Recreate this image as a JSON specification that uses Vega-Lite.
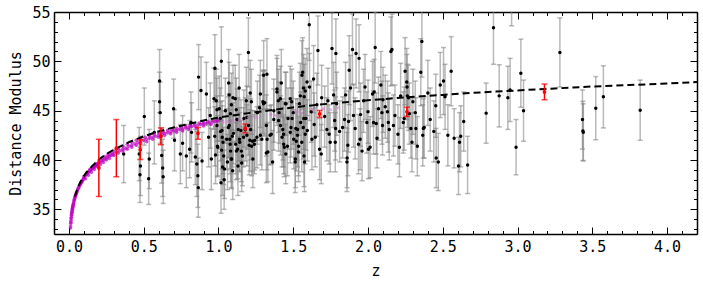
{
"$schema": "https://vega.github.io/schema/vega-lite/v6.json",
"width": 643, "height": 222,
"autosize": {"type": "none"},
"padding": {"left": 54, "top": 12, "right": 6, "bottom": 51},
"config": {"view": {"stroke": null}, "font": "DejaVu Sans Mono",
  "axis": {"grid": false, "domainColor": "black", "domainWidth": 1.5, "tickColor": "black", "tickWidth": 1,
    "labelFont": "DejaVu Sans Mono", "labelFontSize": 15, "labelColor": "black",
    "titleFont": "DejaVu Sans Mono", "titleFontSize": 15, "titleFontWeight": "normal", "titleColor": "black",
    "labelOverlap": false, "labelBound": false, "labelFlush": false}},
"datasets": {
"obs": [
{"z":0.366,"mu":40.6,"e":2.9},{"z":0.475,"mu":38.5,"e":2.8},{"z":0.478,"mu":39.4,"e":3.0},{"z":0.47,"mu":40.6,"e":2.7},
{"z":0.504,"mu":44.4,"e":2.9},{"z":0.533,"mu":38.1,"e":2.6},{"z":0.537,"mu":40.1,"e":3.0},{"z":0.571,"mu":42.8,"e":3.2},
{"z":0.606,"mu":48.0,"e":3.2},{"z":0.606,"mu":45.9,"e":3.0},{"z":0.61,"mu":44.8,"e":3.1},{"z":0.62,"mu":40.45,"e":2.8},
{"z":0.627,"mu":39.2,"e":2.9},{"z":0.63,"mu":38.3,"e":2.7},
{"z":0.70,"mu":45.2,"e":3.0},{"z":0.706,"mu":42.0,"e":3.1},{"z":0.745,"mu":40.6,"e":3.0},{"z":0.76,"mu":41.7,"e":2.8},
{"z":0.785,"mu":40.4,"e":3.2},{"z":0.807,"mu":41.1,"e":2.9},{"z":0.816,"mu":43.8,"e":3.1},{"z":0.82,"mu":42.8,"e":3.0},
{"z":0.845,"mu":40.3,"e":2.8},{"z":0.855,"mu":39.6,"e":3.3},{"z":0.862,"mu":38.4,"e":3.2},{"z":0.865,"mu":37.2,"e":3.0},
{"z":0.867,"mu":48.4,"e":3.3},{"z":0.883,"mu":47.05,"e":3.4},{"z":0.89,"mu":39.9,"e":2.9},{"z":0.919,"mu":46.7,"e":3.2},
{"z":0.934,"mu":42.3,"e":3.0},{"z":0.945,"mu":44.5,"e":3.3},{"z":0.952,"mu":40.1,"e":3.1},{"z":0.976,"mu":49.3,"e":3.4},
{"z":0.985,"mu":46.0,"e":3.2},{"z":0.99,"mu":43.5,"e":3.0},{"z":0.995,"mu":41.3,"e":2.9},{"z":1.017,"mu":37.7,"e":3.1},
{"z":1.019,"mu":50.0,"e":3.5},{"z":1.023,"mu":43.0,"e":3.0},{"z":1.03,"mu":41.8,"e":3.2},{"z":1.035,"mu":40.4,"e":2.9},
{"z":1.04,"mu":39.1,"e":3.0},{"z":1.046,"mu":45.0,"e":3.3},{"z":1.055,"mu":42.1,"e":3.1},{"z":1.06,"mu":39.8,"e":2.8},
{"z":1.068,"mu":47.8,"e":3.4},{"z":1.072,"mu":43.5,"e":3.2},{"z":1.078,"mu":41.6,"e":3.0},{"z":1.085,"mu":40.1,"e":2.9},
{"z":1.08,"mu":44.7,"e":3.1},{"z":1.097,"mu":46.3,"e":3.3},{"z":1.10,"mu":42.7,"e":3.1},{"z":1.112,"mu":46.2,"e":3.4},
{"z":1.115,"mu":41.6,"e":3.0},{"z":1.12,"mu":40.9,"e":2.9},{"z":1.13,"mu":39.4,"e":3.0},{"z":1.14,"mu":42.1,"e":3.2},
{"z":1.15,"mu":43.0,"e":3.1},{"z":1.16,"mu":40.4,"e":3.0},{"z":1.17,"mu":44.2,"e":2.9},{"z":1.186,"mu":46.0,"e":3.4},
{"z":1.19,"mu":44.3,"e":3.2},{"z":1.20,"mu":50.9,"e":3.5},{"z":1.205,"mu":41.5,"e":3.0},{"z":1.21,"mu":42.0,"e":3.1},
{"z":1.22,"mu":45.9,"e":3.3},{"z":1.23,"mu":40.1,"e":2.9},{"z":1.24,"mu":41.6,"e":3.0},{"z":1.26,"mu":44.8,"e":3.2},
{"z":1.28,"mu":46.7,"e":3.4},{"z":1.29,"mu":42.1,"e":3.1},{"z":1.30,"mu":45.7,"e":3.3},{"z":1.324,"mu":48.7,"e":3.6},
{"z":1.32,"mu":43.5,"e":3.1},{"z":1.33,"mu":40.8,"e":3.0},
{"z":0.97,"mu":46.2,"e":3.1},{"z":0.99,"mu":45.1,"e":3.2},{"z":0.975,"mu":42.4,"e":3.0},{"z":0.993,"mu":41.4,"e":3.1},
{"z":0.98,"mu":40.5,"e":2.9},{"z":1.005,"mu":45.2,"e":3.3},{"z":1.012,"mu":44.2,"e":3.1},{"z":1.014,"mu":42.9,"e":3.0},
{"z":1.025,"mu":42.3,"e":3.2},{"z":1.021,"mu":41.0,"e":3.0},{"z":1.027,"mu":39.3,"e":2.9},{"z":1.038,"mu":38.0,"e":3.0},
{"z":1.071,"mu":46.6,"e":3.3},{"z":1.066,"mu":43.3,"e":3.1},{"z":1.076,"mu":42.1,"e":3.0},{"z":1.081,"mu":40.9,"e":3.1},
{"z":1.086,"mu":45.6,"e":3.2},{"z":1.088,"mu":40.1,"e":3.0},{"z":1.092,"mu":42.4,"e":3.1},{"z":1.095,"mu":38.9,"e":2.9},
{"z":1.119,"mu":45.1,"e":3.2},{"z":1.124,"mu":44.1,"e":3.1},{"z":1.128,"mu":41.1,"e":3.0},{"z":1.132,"mu":43.1,"e":3.2},
{"z":1.138,"mu":47.3,"e":3.4},{"z":1.142,"mu":41.8,"e":3.0},{"z":1.153,"mu":40.9,"e":3.1},{"z":1.155,"mu":39.7,"e":2.9},
{"z":1.168,"mu":42.3,"e":3.0},{"z":1.179,"mu":43.1,"e":3.2},{"z":1.19,"mu":42.5,"e":3.1},{"z":1.201,"mu":43.5,"e":3.0},
{"z":1.212,"mu":46.8,"e":3.3},{"z":1.215,"mu":43.1,"e":3.1},{"z":1.222,"mu":41.4,"e":3.0},{"z":1.228,"mu":41.9,"e":3.1},
{"z":1.243,"mu":42.0,"e":3.0},{"z":1.257,"mu":42.3,"e":3.1},{"z":1.275,"mu":45.3,"e":3.3},{"z":1.28,"mu":42.5,"e":3.0},
{"z":1.297,"mu":45.9,"e":3.2},{"z":1.302,"mu":48.6,"e":3.5},{"z":1.309,"mu":45.8,"e":3.3},{"z":1.32,"mu":40.7,"e":3.0},
{"z":1.325,"mu":42.1,"e":3.1},{"z":1.353,"mu":42.6,"e":3.0},{"z":1.37,"mu":45.0,"e":3.2},{"z":1.391,"mu":47.2,"e":3.4},
{"z":1.402,"mu":44.0,"e":3.1},{"z":1.414,"mu":46.2,"e":3.3},{"z":1.425,"mu":42.3,"e":3.0},{"z":1.43,"mu":43.1,"e":3.1},
{"z":1.436,"mu":41.6,"e":3.0},{"z":1.452,"mu":45.7,"e":3.2},{"z":1.461,"mu":41.4,"e":3.0},{"z":1.48,"mu":42.8,"e":3.1},
{"z":1.49,"mu":45.9,"e":3.3},{"z":1.492,"mu":44.2,"e":3.1},{"z":1.503,"mu":42.1,"e":3.0},{"z":1.514,"mu":40.1,"e":2.9},
{"z":1.529,"mu":43.1,"e":3.1},{"z":1.536,"mu":41.4,"e":3.0},{"z":1.541,"mu":45.7,"e":3.2},{"z":1.558,"mu":48.6,"e":3.5},
{"z":1.569,"mu":47.3,"e":3.4},{"z":1.573,"mu":46.4,"e":3.3},{"z":1.57,"mu":44.2,"e":3.1},{"z":1.58,"mu":42.6,"e":3.0},
{"z":1.345,"mu":42.5,"e":3.0},{"z":1.362,"mu":39.8,"e":3.2},{"z":1.391,"mu":46.9,"e":3.4},{"z":1.40,"mu":46.0,"e":3.2},
{"z":1.405,"mu":44.8,"e":3.1},{"z":1.415,"mu":43.5,"e":3.0},{"z":1.435,"mu":42.6,"e":3.3},{"z":1.44,"mu":41.3,"e":3.0},
{"z":1.447,"mu":45.7,"e":3.2},{"z":1.465,"mu":44.2,"e":3.1},{"z":1.48,"mu":46.2,"e":3.3},{"z":1.485,"mu":43.3,"e":3.0},
{"z":1.50,"mu":44.8,"e":3.2},{"z":1.513,"mu":39.8,"e":3.1},{"z":1.517,"mu":43.2,"e":3.0},{"z":1.528,"mu":42.5,"e":3.2},
{"z":1.535,"mu":40.8,"e":3.0},{"z":1.547,"mu":46.5,"e":3.3},{"z":1.55,"mu":43.8,"e":3.1},{"z":1.557,"mu":41.8,"e":3.0},
{"z":1.563,"mu":48.9,"e":3.5},{"z":1.567,"mu":43.3,"e":3.2},{"z":1.572,"mu":40.4,"e":3.1},{"z":1.575,"mu":39.8,"e":3.0},
{"z":1.58,"mu":47.0,"e":3.3},{"z":1.585,"mu":44.2,"e":3.2},{"z":1.592,"mu":47.9,"e":3.4},{"z":1.594,"mu":43.0,"e":3.1},
{"z":1.607,"mu":53.7,"e":3.6},{"z":1.609,"mu":47.4,"e":3.4},{"z":1.625,"mu":42.1,"e":3.1},{"z":1.636,"mu":48.2,"e":3.4},
{"z":1.647,"mu":42.3,"e":3.0},{"z":1.658,"mu":45.6,"e":3.2},{"z":1.665,"mu":51.1,"e":3.5},{"z":1.676,"mu":41.1,"e":3.1},
{"z":1.687,"mu":40.6,"e":3.0},{"z":1.725,"mu":43.1,"e":3.2},{"z":1.732,"mu":46.0,"e":3.3},{"z":1.747,"mu":41.8,"e":3.0},
{"z":1.759,"mu":51.3,"e":3.6},{"z":1.77,"mu":46.6,"e":3.3},{"z":1.777,"mu":44.0,"e":3.1},{"z":1.781,"mu":41.8,"e":3.0},
{"z":1.785,"mu":50.8,"e":3.5},{"z":1.783,"mu":43.2,"e":3.2},{"z":1.83,"mu":43.3,"e":3.1},{"z":1.843,"mu":44.1,"e":3.2},
{"z":1.859,"mu":39.8,"e":3.0},{"z":1.865,"mu":41.5,"e":3.1},{"z":1.874,"mu":49.1,"e":3.5},{"z":1.883,"mu":47.3,"e":3.3},
{"z":1.896,"mu":51.2,"e":3.6},{"z":1.903,"mu":44.5,"e":3.2},{"z":1.914,"mu":43.2,"e":3.1},{"z":1.92,"mu":50.8,"e":3.5},
{"z":1.936,"mu":41.6,"e":3.0},{"z":1.947,"mu":42.1,"e":3.1},{"z":1.94,"mu":50.3,"e":3.4},{"z":1.97,"mu":46.0,"e":3.2},
{"z":1.98,"mu":47.4,"e":3.3},{"z":1.992,"mu":43.8,"e":3.1},{"z":2.003,"mu":41.1,"e":3.0},{"z":2.014,"mu":41.3,"e":3.1},
{"z":2.03,"mu":46.7,"e":3.3},{"z":2.037,"mu":43.8,"e":3.2},{"z":2.048,"mu":51.4,"e":3.6},
{"z":1.62,"mu":44.9,"e":3.1},{"z":1.64,"mu":43.6,"e":3.2},{"z":1.69,"mu":46.3,"e":3.3},{"z":1.71,"mu":44.4,"e":3.1},
{"z":1.74,"mu":42.6,"e":3.0},{"z":1.79,"mu":45.7,"e":3.2},{"z":1.81,"mu":42.9,"e":3.1},{"z":1.85,"mu":46.6,"e":3.3},
{"z":1.86,"mu":40.2,"e":3.0},{"z":1.87,"mu":43.9,"e":3.1},{"z":1.95,"mu":44.6,"e":3.2},{"z":1.96,"mu":40.9,"e":3.0},
{"z":2.0,"mu":44.9,"e":3.2},{"z":2.06,"mu":42.2,"e":3.0},{"z":2.1,"mu":46.1,"e":3.3},{"z":2.18,"mu":44.5,"e":3.1},
{"z":2.2,"mu":42.6,"e":3.0},{"z":2.3,"mu":45.9,"e":3.3},{"z":2.33,"mu":41.4,"e":3.0},{"z":2.4,"mu":46.8,"e":3.3},
{"z":2.44,"mu":42.9,"e":3.1},{"z":2.47,"mu":39.8,"e":2.9},{"z":1.52,"mu":41.9,"e":3.0},{"z":1.45,"mu":40.6,"e":3.0},
{"z":1.42,"mu":47.8,"e":3.4},{"z":1.37,"mu":44.1,"e":3.1},
{"z":2.041,"mu":46.9,"e":3.3},{"z":2.055,"mu":43.7,"e":3.1},{"z":2.07,"mu":45.2,"e":3.2},{"z":2.086,"mu":47.6,"e":3.4},
{"z":2.093,"mu":44.8,"e":3.2},{"z":2.097,"mu":43.5,"e":3.0},{"z":2.115,"mu":45.4,"e":3.2},{"z":2.13,"mu":44.9,"e":3.1},
{"z":2.136,"mu":43.8,"e":3.0},{"z":2.142,"mu":43.1,"e":3.1},{"z":2.153,"mu":51.0,"e":3.5},{"z":2.16,"mu":51.2,"e":3.6},
{"z":2.17,"mu":43.5,"e":3.1},{"z":2.21,"mu":41.3,"e":3.0},{"z":2.218,"mu":46.5,"e":3.3},{"z":2.236,"mu":43.8,"e":3.1},
{"z":2.242,"mu":44.2,"e":3.2},{"z":2.248,"mu":49.0,"e":3.4},{"z":2.259,"mu":47.9,"e":3.4},{"z":2.261,"mu":47.4,"e":3.3},
{"z":2.263,"mu":46.5,"e":3.2},{"z":2.27,"mu":46.3,"e":3.3},{"z":2.276,"mu":44.7,"e":3.1},{"z":2.287,"mu":43.2,"e":3.0},
{"z":2.294,"mu":41.8,"e":3.0},{"z":2.316,"mu":44.8,"e":3.2},{"z":2.32,"mu":43.2,"e":3.1},{"z":2.353,"mu":48.9,"e":3.4},
{"z":2.36,"mu":52.0,"e":3.6},{"z":2.366,"mu":42.5,"e":3.1},{"z":2.37,"mu":43.2,"e":3.0},{"z":2.376,"mu":43.3,"e":3.1},
{"z":2.416,"mu":44.1,"e":3.2},{"z":2.453,"mu":45.5,"e":3.2},{"z":2.456,"mu":40.2,"e":3.0},{"z":2.483,"mu":47.6,"e":3.3},
{"z":2.505,"mu":48.0,"e":3.4},{"z":2.515,"mu":46.4,"e":3.3},{"z":2.534,"mu":42.5,"e":3.1},{"z":2.556,"mu":49.0,"e":3.5},
{"z":2.576,"mu":42.2,"e":3.0},{"z":2.605,"mu":39.4,"e":2.9},{"z":2.612,"mu":41.8,"e":3.0},{"z":2.62,"mu":42.4,"e":3.1},
{"z":2.64,"mu":43.9,"e":3.0},{"z":2.666,"mu":39.5,"e":2.9},
{"z":2.79,"mu":44.75,"e":3.05},{"z":2.839,"mu":53.4,"e":3.7},{"z":2.877,"mu":46.5,"e":3.15},{"z":2.935,"mu":46.3,"e":3.2},
{"z":2.95,"mu":47.1,"e":3.2},{"z":2.96,"mu":56.8,"e":3.2},{"z":2.99,"mu":41.3,"e":2.8},{"z":3.022,"mu":48.8,"e":3.45},
{"z":3.04,"mu":45.0,"e":3.1},{"z":3.283,"mu":50.9,"e":3.5},{"z":3.434,"mu":44.1,"e":3.0},{"z":3.437,"mu":42.95,"e":3.0},
{"z":3.44,"mu":42.8,"e":2.9},{"z":3.523,"mu":45.25,"e":3.2},{"z":3.574,"mu":46.4,"e":3.15},{"z":3.82,"mu":45.05,"e":3.05}
],
"sn": [
{"z":0.010,"mu":33.1},{"z":0.011,"mu":33.3},{"z":0.012,"mu":33.6},{"z":0.013,"mu":33.7},{"z":0.014,"mu":33.9},{"z":0.015,"mu":34.1},
{"z":0.016,"mu":34.2},{"z":0.017,"mu":34.4},{"z":0.018,"mu":34.45},{"z":0.019,"mu":34.6},{"z":0.020,"mu":34.7},{"z":0.021,"mu":34.8},
{"z":0.022,"mu":34.95},{"z":0.023,"mu":35.0},{"z":0.024,"mu":35.1},{"z":0.025,"mu":35.2},{"z":0.026,"mu":35.3},{"z":0.027,"mu":35.35},
{"z":0.028,"mu":35.45},{"z":0.030,"mu":35.55},{"z":0.031,"mu":35.6},{"z":0.033,"mu":35.8},{"z":0.035,"mu":35.9},{"z":0.036,"mu":36.0},
{"z":0.038,"mu":36.1},{"z":0.040,"mu":36.2},{"z":0.042,"mu":36.3},{"z":0.044,"mu":36.4},{"z":0.046,"mu":36.5},{"z":0.048,"mu":36.55},
{"z":0.050,"mu":36.65},{"z":0.052,"mu":36.7},{"z":0.055,"mu":36.85},{"z":0.058,"mu":36.95},{"z":0.060,"mu":37.05},{"z":0.063,"mu":37.15},
{"z":0.066,"mu":37.25},{"z":0.070,"mu":37.4},{"z":0.073,"mu":37.45},{"z":0.076,"mu":37.55},{"z":0.080,"mu":37.65},{"z":0.083,"mu":37.75},
{"z":0.087,"mu":37.85},{"z":0.090,"mu":37.9},{"z":0.094,"mu":38.0},{"z":0.098,"mu":38.1},{"z":0.100,"mu":38.15},
{"z":0.105,"mu":38.3},{"z":0.110,"mu":38.45},{"z":0.115,"mu":38.5},{"z":0.120,"mu":38.6},{"z":0.125,"mu":38.7},{"z":0.130,"mu":38.75},
{"z":0.135,"mu":38.85},{"z":0.140,"mu":38.9},{"z":0.145,"mu":39.0},{"z":0.150,"mu":39.05},{"z":0.155,"mu":39.1},{"z":0.160,"mu":39.2},
{"z":0.165,"mu":39.25},{"z":0.170,"mu":39.3},{"z":0.175,"mu":39.4},{"z":0.180,"mu":39.45},{"z":0.185,"mu":39.5},{"z":0.190,"mu":39.55},
{"z":0.195,"mu":39.65},{"z":0.20,"mu":39.7},{"z":0.21,"mu":39.8},{"z":0.22,"mu":39.9},{"z":0.23,"mu":40.0},{"z":0.24,"mu":40.1},
{"z":0.25,"mu":40.2},{"z":0.26,"mu":40.3},{"z":0.27,"mu":40.4},{"z":0.28,"mu":40.45},{"z":0.29,"mu":40.55},{"z":0.30,"mu":40.65},
{"z":0.32,"mu":40.8},{"z":0.34,"mu":40.95},{"z":0.36,"mu":41.1},{"z":0.38,"mu":41.2},{"z":0.40,"mu":41.4},{"z":0.42,"mu":41.5},
{"z":0.44,"mu":41.65},{"z":0.46,"mu":41.75},{"z":0.48,"mu":41.85},{"z":0.50,"mu":42.0},{"z":0.52,"mu":42.1},{"z":0.54,"mu":42.2},
{"z":0.56,"mu":42.3},{"z":0.58,"mu":42.4},{"z":0.60,"mu":42.5},{"z":0.62,"mu":42.6},{"z":0.64,"mu":42.7},{"z":0.66,"mu":42.75},
{"z":0.68,"mu":42.85},{"z":0.70,"mu":42.95},{"z":0.72,"mu":43.0},{"z":0.74,"mu":43.1},{"z":0.76,"mu":43.15},{"z":0.78,"mu":43.25},
{"z":0.80,"mu":43.3},{"z":0.82,"mu":43.4},{"z":0.84,"mu":43.45},{"z":0.86,"mu":43.5},{"z":0.88,"mu":43.6},{"z":0.90,"mu":43.65},
{"z":0.92,"mu":43.7},{"z":0.94,"mu":43.75},{"z":0.96,"mu":43.85},{"z":0.98,"mu":43.9},{"z":1.00,"mu":43.95},
{"z":0.08,"mu":37.75},{"z":0.10,"mu":38.3},{"z":0.12,"mu":38.7},{"z":0.14,"mu":39.05},{"z":0.16,"mu":39.35},{"z":0.18,"mu":39.65},
{"z":0.20,"mu":39.9},{"z":0.22,"mu":40.15},{"z":0.24,"mu":40.35},{"z":0.26,"mu":40.55},{"z":0.28,"mu":40.75},{"z":0.30,"mu":40.9},
{"z":0.33,"mu":41.15},{"z":0.36,"mu":41.4},{"z":0.39,"mu":41.6},{"z":0.42,"mu":41.8},{"z":0.45,"mu":42.0},{"z":0.48,"mu":42.15},
{"z":0.51,"mu":42.3},{"z":0.54,"mu":42.45},{"z":0.57,"mu":42.6},{"z":0.60,"mu":42.75},{"z":0.63,"mu":42.85},{"z":0.66,"mu":43.0},
{"z":0.69,"mu":43.1},{"z":0.72,"mu":43.2},{"z":0.75,"mu":43.35},{"z":0.78,"mu":43.45},{"z":0.81,"mu":43.55},{"z":0.84,"mu":43.65},
{"z":0.87,"mu":43.75},{"z":0.90,"mu":43.8},{"z":0.93,"mu":43.9},{"z":0.96,"mu":44.0},{"z":0.99,"mu":44.05},
{"z":0.11,"mu":38.1},{"z":0.13,"mu":38.45},{"z":0.15,"mu":38.75},{"z":0.17,"mu":39.05},{"z":0.19,"mu":39.35},{"z":0.21,"mu":39.55},
{"z":0.23,"mu":39.75},{"z":0.25,"mu":40.0},{"z":0.27,"mu":40.15},{"z":0.30,"mu":40.45},{"z":0.33,"mu":40.7},{"z":0.36,"mu":40.9},
{"z":0.39,"mu":41.1},{"z":0.42,"mu":41.3},{"z":0.45,"mu":41.5},{"z":0.48,"mu":41.65},{"z":0.52,"mu":41.85},{"z":0.56,"mu":42.1},
{"z":0.60,"mu":42.3},{"z":0.64,"mu":42.5},{"z":0.68,"mu":42.65},{"z":0.72,"mu":42.8},{"z":0.76,"mu":42.95},{"z":0.80,"mu":43.1},
{"z":0.85,"mu":43.25},{"z":0.90,"mu":43.45},{"z":0.95,"mu":43.6}
],
"sn2": [
{"z":1.03,"mu":43.8},{"z":1.06,"mu":43.9},{"z":1.10,"mu":44.0},{"z":1.14,"mu":44.1},{"z":1.20,"mu":44.3},{"z":1.25,"mu":44.3},
{"z":1.35,"mu":44.6},{"z":1.38,"mu":44.5},{"z":1.52,"mu":44.9},{"z":1.55,"mu":44.8},{"z":1.63,"mu":45.1},{"z":1.70,"mu":45.2},
{"z":1.75,"mu":45.1},{"z":1.80,"mu":45.3}
],
"red": [
{"z":0.20,"mu":39.2,"e":2.9},{"z":0.317,"mu":41.2,"e":2.9},{"z":0.477,"mu":41.05,"e":1.0},{"z":0.615,"mu":42.4,"e":0.85},
{"z":0.863,"mu":42.7,"e":0.6},{"z":1.179,"mu":43.2,"e":0.45},{"z":1.676,"mu":44.67,"e":0.35},{"z":2.26,"mu":44.88,"e":0.48},
{"z":3.18,"mu":46.9,"e":0.8}
],
"curve": [
{"z":0.04,"mu":36.3},{"z":0.05,"mu":36.8},{"z":0.06,"mu":37.2},{"z":0.07,"mu":37.55},{"z":0.08,"mu":37.85},{"z":0.10,"mu":38.4},
{"z":0.12,"mu":38.8},{"z":0.15,"mu":39.3},{"z":0.20,"mu":40.05},{"z":0.25,"mu":40.6},{"z":0.30,"mu":41.05},{"z":0.40,"mu":41.8},
{"z":0.50,"mu":42.4},{"z":0.60,"mu":42.9},{"z":0.70,"mu":43.3},{"z":0.80,"mu":43.65},{"z":0.90,"mu":44.0},{"z":1.00,"mu":44.3},
{"z":1.20,"mu":44.75},{"z":1.40,"mu":45.15},{"z":1.60,"mu":45.5},{"z":1.80,"mu":45.8},{"z":2.00,"mu":46.05},{"z":2.25,"mu":46.35},
{"z":2.50,"mu":46.6},{"z":2.75,"mu":46.85},{"z":3.00,"mu":47.05},{"z":3.25,"mu":47.25},{"z":3.50,"mu":47.45},{"z":3.75,"mu":47.6},
{"z":4.00,"mu":47.75},{"z":4.20,"mu":47.9}
]
},
"encoding": {
  "x": {"field": "z", "type": "quantitative", "scale": {"domain": [-0.1, 4.2], "nice": false, "zero": false}, "axis": null},
  "y": {"field": "mu", "type": "quantitative", "scale": {"domain": [32.5, 55], "nice": false, "zero": false}, "axis": null}
},
"layer": [
  {"data": {"name": "obs"},
   "mark": {"type": "errorbar", "ticks": {"size": 5}, "color": "#808080", "opacity": 0.55, "thickness": 1.5, "clip": true},
   "encoding": {"yError": {"field": "e"}}},
  {"data": {"name": "obs"},
   "mark": {"type": "circle", "size": 12, "color": "black", "opacity": 1, "clip": true}},
  {"data": {"name": "sn"},
   "mark": {"type": "circle", "size": 13, "color": "#bf00bf", "opacity": 0.7, "clip": true}},
  {"data": {"name": "sn2"},
   "mark": {"type": "circle", "size": 10, "color": "#d878d8", "opacity": 0.6, "clip": true}},
  {"data": {"name": "curve"},
   "mark": {"type": "line", "color": "black", "strokeDash": [7, 4], "strokeWidth": 2, "clip": true},
   "encoding": {
     "x": {"field": "z", "type": "quantitative", "scale": {"domain": [-0.1, 4.2], "nice": false, "zero": false},
       "axis": {"orient": "bottom", "title": "z", "values": [-0.1,0,0.1,0.2,0.3,0.4,0.5,0.6,0.7,0.8,0.9,1,1.1,1.2,1.3,1.4,1.5,1.6,1.7,1.8,1.9,2,2.1,2.2,2.3,2.4,2.5,2.6,2.7,2.8,2.9,3,3.1,3.2,3.3,3.4,3.5,3.6,3.7,3.8,3.9,4,4.1,4.2],
         "labelExpr": "abs(datum.value*2-round(datum.value*2))<0.001 ? format(datum.value,'.1f') : ''",
         "tickSize": {"condition": {"test": "abs(datum.value*2-round(datum.value*2))<0.001", "value": -7}, "value": -3.5},
         "labelPadding": 12, "titlePadding": 6}},
     "y": {"field": "mu", "type": "quantitative", "scale": {"domain": [32.5, 55], "nice": false, "zero": false},
       "axis": {"orient": "left", "title": "Distance Modulus", "values": [33,34,35,36,37,38,39,40,41,42,43,44,45,46,47,48,49,50,51,52,53,54,55],
         "labelExpr": "datum.value % 5 === 0 ? datum.value : ''",
         "tickSize": {"condition": {"test": "datum.value % 5 === 0", "value": -7}, "value": -3.5},
         "labelPadding": 11, "titlePadding": 8}}
   }},
  {"data": {"name": "red"},
   "mark": {"type": "errorbar", "ticks": {"size": 6}, "color": "red", "thickness": 1.5},
   "encoding": {"yError": {"field": "e"}}},
  {"data": {"name": "red"},
   "mark": {"type": "circle", "size": 14, "color": "red", "opacity": 1},
   "encoding": {
     "x": {"field": "z", "type": "quantitative", "scale": {"domain": [-0.1, 4.2], "nice": false, "zero": false},
       "axis": {"orient": "top", "title": null, "labels": false, "values": [-0.1,0,0.1,0.2,0.3,0.4,0.5,0.6,0.7,0.8,0.9,1,1.1,1.2,1.3,1.4,1.5,1.6,1.7,1.8,1.9,2,2.1,2.2,2.3,2.4,2.5,2.6,2.7,2.8,2.9,3,3.1,3.2,3.3,3.4,3.5,3.6,3.7,3.8,3.9,4,4.1,4.2],
         "tickSize": {"condition": {"test": "abs(datum.value*2-round(datum.value*2))<0.001", "value": -7}, "value": -3.5}}},
     "y": {"field": "mu", "type": "quantitative", "scale": {"domain": [32.5, 55], "nice": false, "zero": false},
       "axis": {"orient": "right", "title": null, "labels": false, "values": [33,34,35,36,37,38,39,40,41,42,43,44,45,46,47,48,49,50,51,52,53,54,55],
         "tickSize": {"condition": {"test": "datum.value % 5 === 0", "value": -7}, "value": -3.5}}}
   }}
],
"resolve": {"axis": {"x": "independent", "y": "independent"}}
}
